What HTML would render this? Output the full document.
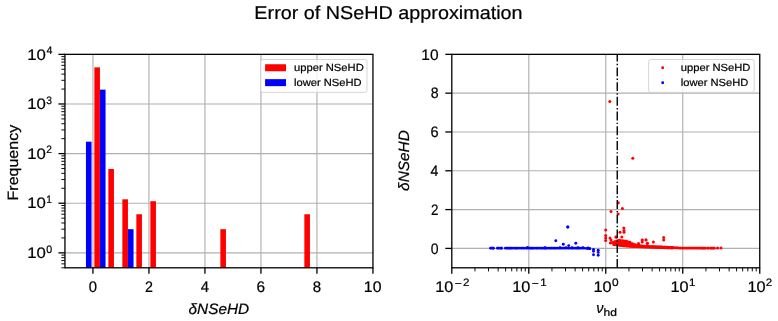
<!DOCTYPE html>
<html><head><meta charset="utf-8"><title>Error of NSeHD approximation</title>
<style>html,body{margin:0;padding:0;background:#fff;width:778px;height:321px;overflow:hidden;}
body{position:relative;font-family:"Liberation Sans", sans-serif;}</style></head>
<body>
<svg width="778" height="321" viewBox="0 0 778 321" style="position:absolute;left:0;top:0;font-family:'Liberation Sans', sans-serif">
<text x="254.38" y="18.90" font-size="18.60" textLength="268.21" lengthAdjust="spacingAndGlyphs" style="filter:grayscale(1)" text-rendering="geometricPrecision" fill="#000" stroke="#000" stroke-width="0.22">Error of NSeHD approximation</text>
<line x1="92.95" y1="54.35" x2="92.95" y2="267.8" stroke="#b0b0b0" stroke-width="1.15"/>
<line x1="148.95" y1="54.35" x2="148.95" y2="267.8" stroke="#b0b0b0" stroke-width="1.15"/>
<line x1="204.95" y1="54.35" x2="204.95" y2="267.8" stroke="#b0b0b0" stroke-width="1.15"/>
<line x1="260.95" y1="54.35" x2="260.95" y2="267.8" stroke="#b0b0b0" stroke-width="1.15"/>
<line x1="316.95" y1="54.35" x2="316.95" y2="267.8" stroke="#b0b0b0" stroke-width="1.15"/>
<line x1="64.95" y1="252.86" x2="372.95" y2="252.86" stroke="#b0b0b0" stroke-width="1.15"/>
<line x1="64.95" y1="203.23" x2="372.95" y2="203.23" stroke="#b0b0b0" stroke-width="1.15"/>
<line x1="64.95" y1="153.61" x2="372.95" y2="153.61" stroke="#b0b0b0" stroke-width="1.15"/>
<line x1="64.95" y1="103.98" x2="372.95" y2="103.98" stroke="#b0b0b0" stroke-width="1.15"/>
<rect x="85.95" y="141.67" width="5.60" height="126.13" fill="#0000ff"/>
<rect x="94.35" y="67.35" width="5.60" height="200.45" fill="#ff0000"/>
<rect x="99.95" y="89.64" width="5.60" height="178.16" fill="#0000ff"/>
<rect x="108.35" y="168.98" width="5.60" height="98.82" fill="#ff0000"/>
<rect x="122.35" y="199.30" width="5.60" height="68.50" fill="#ff0000"/>
<rect x="127.95" y="229.18" width="5.60" height="38.62" fill="#0000ff"/>
<rect x="136.35" y="214.24" width="5.60" height="53.56" fill="#ff0000"/>
<rect x="150.35" y="201.18" width="5.60" height="66.62" fill="#ff0000"/>
<rect x="220.35" y="229.18" width="5.60" height="38.62" fill="#ff0000"/>
<rect x="304.35" y="214.24" width="5.60" height="53.56" fill="#ff0000"/>
<line x1="92.95" y1="267.8" x2="92.95" y2="273.70" stroke="#000" stroke-width="1.3"/>
<text x="88.82" y="291.90" font-size="15.40" textLength="8.27" lengthAdjust="spacingAndGlyphs" style="filter:grayscale(1)" text-rendering="geometricPrecision" fill="#000" stroke="#000" stroke-width="0.22">0</text>
<line x1="148.95" y1="267.8" x2="148.95" y2="273.70" stroke="#000" stroke-width="1.3"/>
<text x="144.98" y="291.90" font-size="15.40" textLength="7.94" lengthAdjust="spacingAndGlyphs" style="filter:grayscale(1)" text-rendering="geometricPrecision" fill="#000" stroke="#000" stroke-width="0.22">2</text>
<line x1="204.95" y1="267.8" x2="204.95" y2="273.70" stroke="#000" stroke-width="1.3"/>
<text x="200.85" y="291.90" font-size="15.40" textLength="8.29" lengthAdjust="spacingAndGlyphs" style="filter:grayscale(1)" text-rendering="geometricPrecision" fill="#000" stroke="#000" stroke-width="0.22">4</text>
<line x1="260.95" y1="267.8" x2="260.95" y2="273.70" stroke="#000" stroke-width="1.3"/>
<text x="256.62" y="291.90" font-size="15.40" textLength="8.56" lengthAdjust="spacingAndGlyphs" style="filter:grayscale(1)" text-rendering="geometricPrecision" fill="#000" stroke="#000" stroke-width="0.22">6</text>
<line x1="316.95" y1="267.8" x2="316.95" y2="273.70" stroke="#000" stroke-width="1.3"/>
<text x="312.77" y="291.90" font-size="15.40" textLength="8.36" lengthAdjust="spacingAndGlyphs" style="filter:grayscale(1)" text-rendering="geometricPrecision" fill="#000" stroke="#000" stroke-width="0.22">8</text>
<line x1="372.95" y1="267.8" x2="372.95" y2="273.70" stroke="#000" stroke-width="1.3"/>
<text x="363.83" y="291.90" font-size="15.40" textLength="17.64" lengthAdjust="spacingAndGlyphs" style="filter:grayscale(1)" text-rendering="geometricPrecision" fill="#000" stroke="#000" stroke-width="0.22">10</text>
<line x1="58.45" y1="252.86" x2="64.95" y2="252.86" stroke="#000" stroke-width="1.3"/>
<text x="27.32" y="258.06" font-size="15.20" textLength="18.63" lengthAdjust="spacingAndGlyphs" style="filter:grayscale(1)" text-rendering="geometricPrecision" fill="#000" stroke="#000" stroke-width="0.22">10</text>
<text x="46.28" y="252.66" font-size="10.80" textLength="5.92" lengthAdjust="spacingAndGlyphs" style="filter:grayscale(1)" text-rendering="geometricPrecision" fill="#000" stroke="#000" stroke-width="0.22">0</text>
<line x1="58.45" y1="203.23" x2="64.95" y2="203.23" stroke="#000" stroke-width="1.3"/>
<text x="27.32" y="208.43" font-size="15.20" textLength="18.63" lengthAdjust="spacingAndGlyphs" style="filter:grayscale(1)" text-rendering="geometricPrecision" fill="#000" stroke="#000" stroke-width="0.22">10</text>
<text x="46.23" y="203.03" font-size="10.80" textLength="5.64" lengthAdjust="spacingAndGlyphs" style="filter:grayscale(1)" text-rendering="geometricPrecision" fill="#000" stroke="#000" stroke-width="0.22">1</text>
<line x1="58.45" y1="153.61" x2="64.95" y2="153.61" stroke="#000" stroke-width="1.3"/>
<text x="27.32" y="158.81" font-size="15.20" textLength="18.63" lengthAdjust="spacingAndGlyphs" style="filter:grayscale(1)" text-rendering="geometricPrecision" fill="#000" stroke="#000" stroke-width="0.22">10</text>
<text x="46.18" y="153.41" font-size="10.80" textLength="5.70" lengthAdjust="spacingAndGlyphs" style="filter:grayscale(1)" text-rendering="geometricPrecision" fill="#000" stroke="#000" stroke-width="0.22">2</text>
<line x1="58.45" y1="103.98" x2="64.95" y2="103.98" stroke="#000" stroke-width="1.3"/>
<text x="27.32" y="109.18" font-size="15.20" textLength="18.63" lengthAdjust="spacingAndGlyphs" style="filter:grayscale(1)" text-rendering="geometricPrecision" fill="#000" stroke="#000" stroke-width="0.22">10</text>
<text x="46.31" y="103.78" font-size="10.80" textLength="5.68" lengthAdjust="spacingAndGlyphs" style="filter:grayscale(1)" text-rendering="geometricPrecision" fill="#000" stroke="#000" stroke-width="0.22">3</text>
<line x1="58.45" y1="54.35" x2="64.95" y2="54.35" stroke="#000" stroke-width="1.3"/>
<text x="27.32" y="59.55" font-size="15.20" textLength="18.63" lengthAdjust="spacingAndGlyphs" style="filter:grayscale(1)" text-rendering="geometricPrecision" fill="#000" stroke="#000" stroke-width="0.22">10</text>
<text x="46.46" y="54.15" font-size="10.80" textLength="5.93" lengthAdjust="spacingAndGlyphs" style="filter:grayscale(1)" text-rendering="geometricPrecision" fill="#000" stroke="#000" stroke-width="0.22">4</text>
<line x1="61.35" y1="267.80" x2="64.95" y2="267.80" stroke="#000" stroke-width="0.95"/>
<line x1="61.35" y1="263.87" x2="64.95" y2="263.87" stroke="#000" stroke-width="0.95"/>
<line x1="61.35" y1="260.55" x2="64.95" y2="260.55" stroke="#000" stroke-width="0.95"/>
<line x1="61.35" y1="257.67" x2="64.95" y2="257.67" stroke="#000" stroke-width="0.95"/>
<line x1="61.35" y1="255.13" x2="64.95" y2="255.13" stroke="#000" stroke-width="0.95"/>
<line x1="61.35" y1="237.92" x2="64.95" y2="237.92" stroke="#000" stroke-width="0.95"/>
<line x1="61.35" y1="229.18" x2="64.95" y2="229.18" stroke="#000" stroke-width="0.95"/>
<line x1="61.35" y1="222.98" x2="64.95" y2="222.98" stroke="#000" stroke-width="0.95"/>
<line x1="61.35" y1="218.17" x2="64.95" y2="218.17" stroke="#000" stroke-width="0.95"/>
<line x1="61.35" y1="214.24" x2="64.95" y2="214.24" stroke="#000" stroke-width="0.95"/>
<line x1="61.35" y1="210.92" x2="64.95" y2="210.92" stroke="#000" stroke-width="0.95"/>
<line x1="61.35" y1="208.04" x2="64.95" y2="208.04" stroke="#000" stroke-width="0.95"/>
<line x1="61.35" y1="205.50" x2="64.95" y2="205.50" stroke="#000" stroke-width="0.95"/>
<line x1="61.35" y1="188.29" x2="64.95" y2="188.29" stroke="#000" stroke-width="0.95"/>
<line x1="61.35" y1="179.55" x2="64.95" y2="179.55" stroke="#000" stroke-width="0.95"/>
<line x1="61.35" y1="173.35" x2="64.95" y2="173.35" stroke="#000" stroke-width="0.95"/>
<line x1="61.35" y1="168.54" x2="64.95" y2="168.54" stroke="#000" stroke-width="0.95"/>
<line x1="61.35" y1="164.62" x2="64.95" y2="164.62" stroke="#000" stroke-width="0.95"/>
<line x1="61.35" y1="161.29" x2="64.95" y2="161.29" stroke="#000" stroke-width="0.95"/>
<line x1="61.35" y1="158.41" x2="64.95" y2="158.41" stroke="#000" stroke-width="0.95"/>
<line x1="61.35" y1="155.88" x2="64.95" y2="155.88" stroke="#000" stroke-width="0.95"/>
<line x1="61.35" y1="138.67" x2="64.95" y2="138.67" stroke="#000" stroke-width="0.95"/>
<line x1="61.35" y1="129.93" x2="64.95" y2="129.93" stroke="#000" stroke-width="0.95"/>
<line x1="61.35" y1="123.73" x2="64.95" y2="123.73" stroke="#000" stroke-width="0.95"/>
<line x1="61.35" y1="118.92" x2="64.95" y2="118.92" stroke="#000" stroke-width="0.95"/>
<line x1="61.35" y1="114.99" x2="64.95" y2="114.99" stroke="#000" stroke-width="0.95"/>
<line x1="61.35" y1="111.67" x2="64.95" y2="111.67" stroke="#000" stroke-width="0.95"/>
<line x1="61.35" y1="108.79" x2="64.95" y2="108.79" stroke="#000" stroke-width="0.95"/>
<line x1="61.35" y1="106.25" x2="64.95" y2="106.25" stroke="#000" stroke-width="0.95"/>
<line x1="61.35" y1="89.04" x2="64.95" y2="89.04" stroke="#000" stroke-width="0.95"/>
<line x1="61.35" y1="80.30" x2="64.95" y2="80.30" stroke="#000" stroke-width="0.95"/>
<line x1="61.35" y1="74.10" x2="64.95" y2="74.10" stroke="#000" stroke-width="0.95"/>
<line x1="61.35" y1="69.29" x2="64.95" y2="69.29" stroke="#000" stroke-width="0.95"/>
<line x1="61.35" y1="65.36" x2="64.95" y2="65.36" stroke="#000" stroke-width="0.95"/>
<line x1="61.35" y1="62.04" x2="64.95" y2="62.04" stroke="#000" stroke-width="0.95"/>
<line x1="61.35" y1="59.16" x2="64.95" y2="59.16" stroke="#000" stroke-width="0.95"/>
<line x1="61.35" y1="56.62" x2="64.95" y2="56.62" stroke="#000" stroke-width="0.95"/>
<rect x="64.95" y="54.35" width="308.00" height="213.45" fill="none" stroke="#000" stroke-width="1.3"/>
<text transform="translate(17.70 0) rotate(-90)" x="-200.41" y="0" font-size="15.00" textLength="75.54" lengthAdjust="spacingAndGlyphs" style="filter:grayscale(1)" text-rendering="geometricPrecision" fill="#000" stroke="#000" stroke-width="0.22">Frequency</text>
<text x="188.60" y="313.60" font-size="15.00" textLength="60.50" lengthAdjust="spacingAndGlyphs" style="font-style:italic;filter:grayscale(1)" text-rendering="geometricPrecision" fill="#000" stroke="#000" stroke-width="0.22">δNSeHD</text>
<rect x="260.7" y="59.5" width="106.3" height="32.9" rx="2.2" ry="2.2" fill="#fff" fill-opacity="0.8" stroke="#cccccc" stroke-opacity="0.8" stroke-width="1.0"/>
<rect x="265.10" y="64.25" width="20.9" height="7.0" fill="#ff0000"/>
<text x="294.07" y="71.20" font-size="10.40" textLength="69.65" lengthAdjust="spacingAndGlyphs" style="filter:grayscale(1)" text-rendering="geometricPrecision" fill="#000" stroke="#000" stroke-width="0.22">upper NSeHD</text>
<rect x="265.10" y="79.15" width="20.9" height="7.0" fill="#0000ff"/>
<text x="294.05" y="86.30" font-size="10.40" textLength="67.54" lengthAdjust="spacingAndGlyphs" style="filter:grayscale(1)" text-rendering="geometricPrecision" fill="#000" stroke="#000" stroke-width="0.22">lower NSeHD</text>
<line x1="528.79" y1="54.35" x2="528.79" y2="267.8" stroke="#b0b0b0" stroke-width="1.15"/>
<line x1="605.77" y1="54.35" x2="605.77" y2="267.8" stroke="#b0b0b0" stroke-width="1.15"/>
<line x1="682.76" y1="54.35" x2="682.76" y2="267.8" stroke="#b0b0b0" stroke-width="1.15"/>
<line x1="451.8" y1="248.40" x2="759.75" y2="248.40" stroke="#b0b0b0" stroke-width="1.15"/>
<line x1="451.8" y1="209.59" x2="759.75" y2="209.59" stroke="#b0b0b0" stroke-width="1.15"/>
<line x1="451.8" y1="170.78" x2="759.75" y2="170.78" stroke="#b0b0b0" stroke-width="1.15"/>
<line x1="451.8" y1="131.97" x2="759.75" y2="131.97" stroke="#b0b0b0" stroke-width="1.15"/>
<line x1="451.8" y1="93.16" x2="759.75" y2="93.16" stroke="#b0b0b0" stroke-width="1.15"/>
<circle cx="490.50" cy="248.20" r="1.35" fill="#0000ff"/>
<circle cx="491.86" cy="248.20" r="1.35" fill="#0000ff"/>
<circle cx="493.02" cy="248.20" r="1.35" fill="#0000ff"/>
<circle cx="493.40" cy="248.20" r="1.35" fill="#0000ff"/>
<circle cx="497.30" cy="248.20" r="1.35" fill="#0000ff"/>
<circle cx="498.38" cy="248.20" r="1.35" fill="#0000ff"/>
<circle cx="499.97" cy="248.20" r="1.35" fill="#0000ff"/>
<circle cx="501.37" cy="248.20" r="1.35" fill="#0000ff"/>
<circle cx="501.60" cy="248.20" r="1.35" fill="#0000ff"/>
<circle cx="505.30" cy="248.20" r="1.35" fill="#0000ff"/>
<circle cx="506.86" cy="248.20" r="1.35" fill="#0000ff"/>
<circle cx="507.90" cy="248.20" r="1.35" fill="#0000ff"/>
<circle cx="509.38" cy="248.20" r="1.35" fill="#0000ff"/>
<circle cx="510.45" cy="248.20" r="1.35" fill="#0000ff"/>
<circle cx="511.55" cy="248.20" r="1.35" fill="#0000ff"/>
<circle cx="513.02" cy="248.20" r="1.35" fill="#0000ff"/>
<circle cx="514.93" cy="248.20" r="1.35" fill="#0000ff"/>
<circle cx="516.07" cy="248.20" r="1.35" fill="#0000ff"/>
<circle cx="517.31" cy="248.20" r="1.35" fill="#0000ff"/>
<circle cx="519.00" cy="248.20" r="1.35" fill="#0000ff"/>
<circle cx="521.04" cy="248.20" r="1.35" fill="#0000ff"/>
<circle cx="522.68" cy="248.20" r="1.35" fill="#0000ff"/>
<circle cx="524.12" cy="248.20" r="1.35" fill="#0000ff"/>
<circle cx="526.19" cy="248.20" r="1.35" fill="#0000ff"/>
<circle cx="527.24" cy="248.20" r="1.35" fill="#0000ff"/>
<circle cx="529.18" cy="248.20" r="1.35" fill="#0000ff"/>
<circle cx="530.50" cy="248.20" r="1.35" fill="#0000ff"/>
<circle cx="531.66" cy="248.20" r="1.35" fill="#0000ff"/>
<circle cx="532.79" cy="248.20" r="1.35" fill="#0000ff"/>
<circle cx="534.13" cy="248.20" r="1.35" fill="#0000ff"/>
<circle cx="536.03" cy="248.20" r="1.35" fill="#0000ff"/>
<circle cx="537.23" cy="248.20" r="1.35" fill="#0000ff"/>
<circle cx="538.87" cy="248.20" r="1.35" fill="#0000ff"/>
<circle cx="540.57" cy="248.20" r="1.35" fill="#0000ff"/>
<circle cx="541.98" cy="248.20" r="1.35" fill="#0000ff"/>
<circle cx="543.58" cy="248.20" r="1.35" fill="#0000ff"/>
<circle cx="544.65" cy="248.20" r="1.35" fill="#0000ff"/>
<circle cx="545.72" cy="248.20" r="1.35" fill="#0000ff"/>
<circle cx="546.94" cy="248.20" r="1.35" fill="#0000ff"/>
<circle cx="548.69" cy="248.20" r="1.35" fill="#0000ff"/>
<circle cx="550.16" cy="248.20" r="1.35" fill="#0000ff"/>
<circle cx="551.51" cy="248.20" r="1.35" fill="#0000ff"/>
<circle cx="553.15" cy="248.20" r="1.35" fill="#0000ff"/>
<circle cx="554.65" cy="248.20" r="1.35" fill="#0000ff"/>
<circle cx="555.98" cy="248.20" r="1.35" fill="#0000ff"/>
<circle cx="557.85" cy="248.20" r="1.35" fill="#0000ff"/>
<circle cx="559.62" cy="248.20" r="1.35" fill="#0000ff"/>
<circle cx="560.89" cy="248.20" r="1.35" fill="#0000ff"/>
<circle cx="562.52" cy="248.20" r="1.35" fill="#0000ff"/>
<circle cx="564.10" cy="248.20" r="1.35" fill="#0000ff"/>
<circle cx="566.06" cy="248.20" r="1.35" fill="#0000ff"/>
<circle cx="567.87" cy="248.20" r="1.35" fill="#0000ff"/>
<circle cx="569.18" cy="248.20" r="1.35" fill="#0000ff"/>
<circle cx="571.26" cy="248.20" r="1.35" fill="#0000ff"/>
<circle cx="572.39" cy="248.20" r="1.35" fill="#0000ff"/>
<circle cx="573.85" cy="248.20" r="1.35" fill="#0000ff"/>
<circle cx="575.68" cy="248.20" r="1.35" fill="#0000ff"/>
<circle cx="576.85" cy="248.20" r="1.35" fill="#0000ff"/>
<circle cx="578.39" cy="248.20" r="1.35" fill="#0000ff"/>
<circle cx="579.43" cy="248.20" r="1.35" fill="#0000ff"/>
<circle cx="581.17" cy="248.20" r="1.35" fill="#0000ff"/>
<circle cx="583.01" cy="248.20" r="1.35" fill="#0000ff"/>
<circle cx="584.64" cy="248.25" r="1.35" fill="#0000ff"/>
<circle cx="586.60" cy="248.42" r="1.35" fill="#0000ff"/>
<circle cx="587.95" cy="248.53" r="1.35" fill="#0000ff"/>
<circle cx="589.71" cy="248.68" r="1.35" fill="#0000ff"/>
<circle cx="590.00" cy="248.70" r="1.35" fill="#0000ff"/>
<circle cx="527.60" cy="247.40" r="1.35" fill="#0000ff"/>
<circle cx="545.00" cy="247.70" r="1.35" fill="#0000ff"/>
<circle cx="560.00" cy="247.60" r="1.35" fill="#0000ff"/>
<circle cx="566.00" cy="247.50" r="1.35" fill="#0000ff"/>
<circle cx="572.00" cy="247.60" r="1.35" fill="#0000ff"/>
<circle cx="578.00" cy="247.50" r="1.35" fill="#0000ff"/>
<circle cx="583.00" cy="247.70" r="1.35" fill="#0000ff"/>
<circle cx="588.00" cy="247.90" r="1.35" fill="#0000ff"/>
<circle cx="555.80" cy="240.80" r="1.45" fill="#0000ff"/>
<circle cx="567.80" cy="227.00" r="1.45" fill="#0000ff"/>
<circle cx="563.30" cy="244.20" r="1.45" fill="#0000ff"/>
<circle cx="575.80" cy="243.30" r="1.45" fill="#0000ff"/>
<circle cx="568.70" cy="245.60" r="1.45" fill="#0000ff"/>
<circle cx="593.50" cy="249.40" r="1.45" fill="#0000ff"/>
<circle cx="593.50" cy="251.30" r="1.45" fill="#0000ff"/>
<circle cx="593.50" cy="254.80" r="1.45" fill="#0000ff"/>
<circle cx="598.20" cy="250.20" r="1.45" fill="#0000ff"/>
<circle cx="598.20" cy="252.40" r="1.45" fill="#0000ff"/>
<circle cx="598.20" cy="255.30" r="1.45" fill="#0000ff"/>
<circle cx="567.80" cy="227.00" r="1.5" fill="#0000ff"/>
<circle cx="609.80" cy="101.40" r="1.5" fill="#ff0000"/>
<circle cx="632.80" cy="158.30" r="1.5" fill="#ff0000"/>
<circle cx="618.30" cy="202.70" r="1.5" fill="#ff0000"/>
<circle cx="622.40" cy="208.40" r="1.5" fill="#ff0000"/>
<circle cx="611.00" cy="211.50" r="1.5" fill="#ff0000"/>
<circle cx="618.10" cy="213.90" r="1.5" fill="#ff0000"/>
<circle cx="605.70" cy="230.00" r="1.5" fill="#ff0000"/>
<circle cx="605.70" cy="235.50" r="1.5" fill="#ff0000"/>
<circle cx="605.70" cy="238.00" r="1.5" fill="#ff0000"/>
<circle cx="605.70" cy="240.50" r="1.5" fill="#ff0000"/>
<circle cx="610.00" cy="238.00" r="1.5" fill="#ff0000"/>
<circle cx="611.00" cy="240.00" r="1.5" fill="#ff0000"/>
<circle cx="611.50" cy="242.50" r="1.5" fill="#ff0000"/>
<circle cx="610.30" cy="243.00" r="1.5" fill="#ff0000"/>
<circle cx="620.00" cy="232.20" r="1.5" fill="#ff0000"/>
<circle cx="623.80" cy="227.90" r="1.5" fill="#ff0000"/>
<circle cx="624.00" cy="230.50" r="1.5" fill="#ff0000"/>
<circle cx="624.00" cy="232.30" r="1.5" fill="#ff0000"/>
<circle cx="615.90" cy="237.10" r="1.5" fill="#ff0000"/>
<circle cx="621.80" cy="237.10" r="1.5" fill="#ff0000"/>
<circle cx="642.20" cy="240.10" r="1.5" fill="#ff0000"/>
<circle cx="642.20" cy="242.00" r="1.5" fill="#ff0000"/>
<circle cx="646.00" cy="240.10" r="1.5" fill="#ff0000"/>
<circle cx="647.20" cy="243.50" r="1.5" fill="#ff0000"/>
<circle cx="653.40" cy="242.00" r="1.5" fill="#ff0000"/>
<circle cx="663.70" cy="237.60" r="1.5" fill="#ff0000"/>
<circle cx="663.70" cy="240.10" r="1.5" fill="#ff0000"/>
<circle cx="638.50" cy="243.80" r="1.5" fill="#ff0000"/>
<circle cx="717.60" cy="248.10" r="1.5" fill="#ff0000"/>
<circle cx="721.00" cy="248.10" r="1.5" fill="#ff0000"/>
<circle cx="613.54" cy="242.15" r="1.35" fill="#ff0000"/>
<circle cx="613.48" cy="243.40" r="1.35" fill="#ff0000"/>
<circle cx="613.67" cy="244.65" r="1.35" fill="#ff0000"/>
<circle cx="614.72" cy="241.82" r="1.35" fill="#ff0000"/>
<circle cx="614.49" cy="243.29" r="1.35" fill="#ff0000"/>
<circle cx="614.58" cy="244.77" r="1.35" fill="#ff0000"/>
<circle cx="615.28" cy="241.48" r="1.35" fill="#ff0000"/>
<circle cx="615.60" cy="242.62" r="1.35" fill="#ff0000"/>
<circle cx="615.57" cy="243.75" r="1.35" fill="#ff0000"/>
<circle cx="615.75" cy="244.89" r="1.35" fill="#ff0000"/>
<circle cx="616.66" cy="241.15" r="1.35" fill="#ff0000"/>
<circle cx="616.39" cy="242.43" r="1.35" fill="#ff0000"/>
<circle cx="616.44" cy="243.72" r="1.35" fill="#ff0000"/>
<circle cx="616.58" cy="245.00" r="1.35" fill="#ff0000"/>
<circle cx="617.26" cy="240.82" r="1.35" fill="#ff0000"/>
<circle cx="617.48" cy="242.25" r="1.35" fill="#ff0000"/>
<circle cx="617.33" cy="243.69" r="1.35" fill="#ff0000"/>
<circle cx="617.31" cy="245.12" r="1.35" fill="#ff0000"/>
<circle cx="618.28" cy="240.68" r="1.35" fill="#ff0000"/>
<circle cx="618.63" cy="241.82" r="1.35" fill="#ff0000"/>
<circle cx="618.31" cy="242.96" r="1.35" fill="#ff0000"/>
<circle cx="618.37" cy="244.10" r="1.35" fill="#ff0000"/>
<circle cx="618.45" cy="245.24" r="1.35" fill="#ff0000"/>
<circle cx="619.69" cy="240.73" r="1.35" fill="#ff0000"/>
<circle cx="619.29" cy="241.89" r="1.35" fill="#ff0000"/>
<circle cx="619.47" cy="243.04" r="1.35" fill="#ff0000"/>
<circle cx="619.52" cy="244.20" r="1.35" fill="#ff0000"/>
<circle cx="619.69" cy="245.36" r="1.35" fill="#ff0000"/>
<circle cx="620.66" cy="240.79" r="1.35" fill="#ff0000"/>
<circle cx="620.68" cy="241.96" r="1.35" fill="#ff0000"/>
<circle cx="620.39" cy="243.13" r="1.35" fill="#ff0000"/>
<circle cx="620.46" cy="244.30" r="1.35" fill="#ff0000"/>
<circle cx="620.43" cy="245.47" r="1.35" fill="#ff0000"/>
<circle cx="621.69" cy="240.84" r="1.35" fill="#ff0000"/>
<circle cx="621.73" cy="242.03" r="1.35" fill="#ff0000"/>
<circle cx="621.33" cy="243.22" r="1.35" fill="#ff0000"/>
<circle cx="621.34" cy="244.40" r="1.35" fill="#ff0000"/>
<circle cx="621.37" cy="245.59" r="1.35" fill="#ff0000"/>
<circle cx="622.37" cy="240.90" r="1.35" fill="#ff0000"/>
<circle cx="622.49" cy="242.10" r="1.35" fill="#ff0000"/>
<circle cx="622.54" cy="243.30" r="1.35" fill="#ff0000"/>
<circle cx="622.38" cy="244.50" r="1.35" fill="#ff0000"/>
<circle cx="622.25" cy="245.69" r="1.35" fill="#ff0000"/>
<circle cx="623.46" cy="240.96" r="1.35" fill="#ff0000"/>
<circle cx="623.43" cy="242.16" r="1.35" fill="#ff0000"/>
<circle cx="623.53" cy="243.37" r="1.35" fill="#ff0000"/>
<circle cx="623.73" cy="244.58" r="1.35" fill="#ff0000"/>
<circle cx="623.60" cy="245.78" r="1.35" fill="#ff0000"/>
<circle cx="624.51" cy="241.01" r="1.35" fill="#ff0000"/>
<circle cx="624.56" cy="242.23" r="1.35" fill="#ff0000"/>
<circle cx="624.59" cy="243.44" r="1.35" fill="#ff0000"/>
<circle cx="624.28" cy="244.66" r="1.35" fill="#ff0000"/>
<circle cx="624.70" cy="245.88" r="1.35" fill="#ff0000"/>
<circle cx="625.64" cy="241.07" r="1.35" fill="#ff0000"/>
<circle cx="625.69" cy="242.29" r="1.35" fill="#ff0000"/>
<circle cx="625.65" cy="243.52" r="1.35" fill="#ff0000"/>
<circle cx="625.45" cy="244.74" r="1.35" fill="#ff0000"/>
<circle cx="625.45" cy="245.97" r="1.35" fill="#ff0000"/>
<circle cx="626.30" cy="241.12" r="1.35" fill="#ff0000"/>
<circle cx="626.57" cy="242.36" r="1.35" fill="#ff0000"/>
<circle cx="626.28" cy="243.59" r="1.35" fill="#ff0000"/>
<circle cx="626.28" cy="244.82" r="1.35" fill="#ff0000"/>
<circle cx="626.35" cy="246.06" r="1.35" fill="#ff0000"/>
<circle cx="627.33" cy="241.48" r="1.35" fill="#ff0000"/>
<circle cx="627.42" cy="242.65" r="1.35" fill="#ff0000"/>
<circle cx="627.28" cy="243.81" r="1.35" fill="#ff0000"/>
<circle cx="627.25" cy="244.98" r="1.35" fill="#ff0000"/>
<circle cx="627.33" cy="246.15" r="1.35" fill="#ff0000"/>
<circle cx="628.30" cy="242.15" r="1.35" fill="#ff0000"/>
<circle cx="628.43" cy="243.51" r="1.35" fill="#ff0000"/>
<circle cx="628.26" cy="244.87" r="1.35" fill="#ff0000"/>
<circle cx="628.69" cy="246.24" r="1.35" fill="#ff0000"/>
<circle cx="629.56" cy="242.82" r="1.35" fill="#ff0000"/>
<circle cx="629.32" cy="243.99" r="1.35" fill="#ff0000"/>
<circle cx="629.38" cy="245.16" r="1.35" fill="#ff0000"/>
<circle cx="629.42" cy="246.33" r="1.35" fill="#ff0000"/>
<circle cx="630.43" cy="243.30" r="1.35" fill="#ff0000"/>
<circle cx="630.31" cy="244.86" r="1.35" fill="#ff0000"/>
<circle cx="630.67" cy="246.42" r="1.35" fill="#ff0000"/>
<circle cx="631.75" cy="243.60" r="1.35" fill="#ff0000"/>
<circle cx="631.48" cy="245.05" r="1.35" fill="#ff0000"/>
<circle cx="631.49" cy="246.51" r="1.35" fill="#ff0000"/>
<circle cx="632.29" cy="243.90" r="1.35" fill="#ff0000"/>
<circle cx="632.30" cy="245.23" r="1.35" fill="#ff0000"/>
<circle cx="632.42" cy="246.57" r="1.35" fill="#ff0000"/>
<circle cx="633.38" cy="244.20" r="1.35" fill="#ff0000"/>
<circle cx="633.66" cy="245.40" r="1.35" fill="#ff0000"/>
<circle cx="633.33" cy="246.61" r="1.35" fill="#ff0000"/>
<circle cx="634.26" cy="244.50" r="1.35" fill="#ff0000"/>
<circle cx="634.73" cy="245.57" r="1.35" fill="#ff0000"/>
<circle cx="634.51" cy="246.65" r="1.35" fill="#ff0000"/>
<circle cx="635.32" cy="244.80" r="1.35" fill="#ff0000"/>
<circle cx="635.52" cy="246.68" r="1.35" fill="#ff0000"/>
<circle cx="636.26" cy="245.05" r="1.35" fill="#ff0000"/>
<circle cx="636.51" cy="246.72" r="1.35" fill="#ff0000"/>
<circle cx="637.74" cy="245.25" r="1.35" fill="#ff0000"/>
<circle cx="637.68" cy="246.76" r="1.35" fill="#ff0000"/>
<circle cx="638.60" cy="245.45" r="1.35" fill="#ff0000"/>
<circle cx="638.38" cy="246.80" r="1.35" fill="#ff0000"/>
<circle cx="639.43" cy="245.65" r="1.35" fill="#ff0000"/>
<circle cx="639.33" cy="246.84" r="1.35" fill="#ff0000"/>
<circle cx="640.50" cy="245.80" r="1.35" fill="#ff0000"/>
<circle cx="640.50" cy="246.88" r="1.35" fill="#ff0000"/>
<circle cx="641.50" cy="245.90" r="1.35" fill="#ff0000"/>
<circle cx="641.50" cy="246.92" r="1.35" fill="#ff0000"/>
<circle cx="642.50" cy="246.00" r="1.35" fill="#ff0000"/>
<circle cx="642.50" cy="246.95" r="1.35" fill="#ff0000"/>
<circle cx="643.50" cy="246.10" r="1.35" fill="#ff0000"/>
<circle cx="643.50" cy="246.99" r="1.35" fill="#ff0000"/>
<circle cx="644.50" cy="246.20" r="1.35" fill="#ff0000"/>
<circle cx="644.50" cy="247.03" r="1.35" fill="#ff0000"/>
<circle cx="645.50" cy="246.30" r="1.35" fill="#ff0000"/>
<circle cx="645.50" cy="247.07" r="1.35" fill="#ff0000"/>
<circle cx="646.50" cy="246.37" r="1.35" fill="#ff0000"/>
<circle cx="646.50" cy="247.11" r="1.35" fill="#ff0000"/>
<circle cx="647.50" cy="246.41" r="1.35" fill="#ff0000"/>
<circle cx="647.50" cy="247.15" r="1.35" fill="#ff0000"/>
<circle cx="648.50" cy="246.45" r="1.35" fill="#ff0000"/>
<circle cx="648.50" cy="247.18" r="1.35" fill="#ff0000"/>
<circle cx="649.50" cy="246.49" r="1.35" fill="#ff0000"/>
<circle cx="649.50" cy="247.22" r="1.35" fill="#ff0000"/>
<circle cx="650.50" cy="246.53" r="1.35" fill="#ff0000"/>
<circle cx="650.50" cy="247.26" r="1.35" fill="#ff0000"/>
<circle cx="651.50" cy="246.57" r="1.35" fill="#ff0000"/>
<circle cx="651.50" cy="247.30" r="1.35" fill="#ff0000"/>
<circle cx="652.50" cy="246.61" r="1.35" fill="#ff0000"/>
<circle cx="652.50" cy="247.34" r="1.35" fill="#ff0000"/>
<circle cx="653.50" cy="246.65" r="1.35" fill="#ff0000"/>
<circle cx="653.50" cy="247.37" r="1.35" fill="#ff0000"/>
<circle cx="654.50" cy="246.69" r="1.35" fill="#ff0000"/>
<circle cx="654.50" cy="247.41" r="1.35" fill="#ff0000"/>
<circle cx="655.50" cy="246.73" r="1.35" fill="#ff0000"/>
<circle cx="655.50" cy="247.45" r="1.35" fill="#ff0000"/>
<circle cx="656.50" cy="246.77" r="1.35" fill="#ff0000"/>
<circle cx="656.50" cy="247.49" r="1.35" fill="#ff0000"/>
<circle cx="657.50" cy="246.81" r="1.35" fill="#ff0000"/>
<circle cx="657.50" cy="247.53" r="1.35" fill="#ff0000"/>
<circle cx="658.50" cy="246.85" r="1.35" fill="#ff0000"/>
<circle cx="658.50" cy="247.56" r="1.35" fill="#ff0000"/>
<circle cx="659.50" cy="246.89" r="1.35" fill="#ff0000"/>
<circle cx="659.50" cy="247.60" r="1.35" fill="#ff0000"/>
<circle cx="660.50" cy="246.93" r="1.35" fill="#ff0000"/>
<circle cx="660.50" cy="247.64" r="1.35" fill="#ff0000"/>
<circle cx="661.50" cy="246.97" r="1.35" fill="#ff0000"/>
<circle cx="661.50" cy="247.68" r="1.35" fill="#ff0000"/>
<circle cx="662.50" cy="247.01" r="1.35" fill="#ff0000"/>
<circle cx="662.50" cy="247.72" r="1.35" fill="#ff0000"/>
<circle cx="663.50" cy="247.05" r="1.35" fill="#ff0000"/>
<circle cx="663.50" cy="247.75" r="1.35" fill="#ff0000"/>
<circle cx="664.50" cy="247.09" r="1.35" fill="#ff0000"/>
<circle cx="664.50" cy="247.79" r="1.35" fill="#ff0000"/>
<circle cx="665.50" cy="247.13" r="1.35" fill="#ff0000"/>
<circle cx="665.50" cy="247.83" r="1.35" fill="#ff0000"/>
<circle cx="666.50" cy="247.17" r="1.35" fill="#ff0000"/>
<circle cx="666.50" cy="247.87" r="1.35" fill="#ff0000"/>
<circle cx="667.50" cy="247.21" r="1.35" fill="#ff0000"/>
<circle cx="667.50" cy="247.90" r="1.35" fill="#ff0000"/>
<circle cx="668.50" cy="247.26" r="1.35" fill="#ff0000"/>
<circle cx="668.50" cy="247.94" r="1.35" fill="#ff0000"/>
<circle cx="669.50" cy="247.30" r="1.35" fill="#ff0000"/>
<circle cx="669.50" cy="247.97" r="1.35" fill="#ff0000"/>
<circle cx="670.50" cy="247.34" r="1.35" fill="#ff0000"/>
<circle cx="670.50" cy="248.01" r="1.35" fill="#ff0000"/>
<circle cx="671.50" cy="247.39" r="1.35" fill="#ff0000"/>
<circle cx="671.50" cy="248.05" r="1.35" fill="#ff0000"/>
<circle cx="672.50" cy="247.43" r="1.35" fill="#ff0000"/>
<circle cx="672.50" cy="248.08" r="1.35" fill="#ff0000"/>
<circle cx="673.50" cy="247.79" r="1.35" fill="#ff0000"/>
<circle cx="674.50" cy="247.83" r="1.35" fill="#ff0000"/>
<circle cx="675.50" cy="247.87" r="1.35" fill="#ff0000"/>
<circle cx="676.50" cy="247.91" r="1.35" fill="#ff0000"/>
<circle cx="677.50" cy="247.95" r="1.35" fill="#ff0000"/>
<circle cx="678.50" cy="247.99" r="1.35" fill="#ff0000"/>
<circle cx="679.50" cy="248.03" r="1.35" fill="#ff0000"/>
<circle cx="680.50" cy="248.05" r="1.35" fill="#ff0000"/>
<circle cx="681.50" cy="248.06" r="1.35" fill="#ff0000"/>
<circle cx="682.50" cy="248.06" r="1.35" fill="#ff0000"/>
<circle cx="683.50" cy="248.06" r="1.35" fill="#ff0000"/>
<circle cx="684.50" cy="248.07" r="1.35" fill="#ff0000"/>
<circle cx="685.50" cy="248.07" r="1.35" fill="#ff0000"/>
<circle cx="686.50" cy="248.07" r="1.35" fill="#ff0000"/>
<circle cx="687.50" cy="248.08" r="1.35" fill="#ff0000"/>
<circle cx="688.50" cy="248.08" r="1.35" fill="#ff0000"/>
<circle cx="689.50" cy="248.08" r="1.35" fill="#ff0000"/>
<circle cx="690.50" cy="248.09" r="1.35" fill="#ff0000"/>
<circle cx="691.50" cy="248.09" r="1.35" fill="#ff0000"/>
<circle cx="692.50" cy="248.09" r="1.35" fill="#ff0000"/>
<circle cx="693.50" cy="248.10" r="1.35" fill="#ff0000"/>
<circle cx="694.50" cy="248.10" r="1.35" fill="#ff0000"/>
<circle cx="695.50" cy="248.11" r="1.35" fill="#ff0000"/>
<circle cx="696.50" cy="248.11" r="1.35" fill="#ff0000"/>
<circle cx="697.50" cy="248.11" r="1.35" fill="#ff0000"/>
<circle cx="698.50" cy="248.12" r="1.35" fill="#ff0000"/>
<circle cx="699.50" cy="248.12" r="1.35" fill="#ff0000"/>
<circle cx="700.50" cy="248.12" r="1.35" fill="#ff0000"/>
<circle cx="701.50" cy="248.13" r="1.35" fill="#ff0000"/>
<circle cx="702.50" cy="248.13" r="1.35" fill="#ff0000"/>
<circle cx="703.50" cy="248.13" r="1.35" fill="#ff0000"/>
<circle cx="704.50" cy="248.14" r="1.35" fill="#ff0000"/>
<circle cx="705.50" cy="248.14" r="1.35" fill="#ff0000"/>
<circle cx="707.50" cy="248.15" r="1.35" fill="#ff0000"/>
<circle cx="708.50" cy="248.15" r="1.35" fill="#ff0000"/>
<circle cx="710.50" cy="248.16" r="1.35" fill="#ff0000"/>
<circle cx="711.50" cy="248.16" r="1.35" fill="#ff0000"/>
<circle cx="712.50" cy="248.17" r="1.35" fill="#ff0000"/>
<circle cx="713.50" cy="248.17" r="1.35" fill="#ff0000"/>
<circle cx="714.50" cy="248.17" r="1.35" fill="#ff0000"/>
<circle cx="616.20" cy="237.20" r="1.35" fill="#ff0000"/>
<circle cx="638.50" cy="243.70" r="1.35" fill="#ff0000"/>
<circle cx="619.50" cy="240.00" r="1.35" fill="#ff0000"/>
<circle cx="630.00" cy="242.20" r="1.35" fill="#ff0000"/>
<circle cx="647.50" cy="243.20" r="1.35" fill="#ff0000"/>
<circle cx="646.00" cy="239.90" r="1.35" fill="#ff0000"/>
<circle cx="642.30" cy="240.10" r="1.35" fill="#ff0000"/>
<line x1="617.25" y1="267.8" x2="617.25" y2="54.35" stroke="#000" stroke-width="1.4" stroke-dasharray="8.9 2.22 1.39 2.22"/>
<line x1="451.80" y1="267.8" x2="451.80" y2="273.70" stroke="#000" stroke-width="1.3"/>
<line x1="528.79" y1="267.8" x2="528.79" y2="273.70" stroke="#000" stroke-width="1.3"/>
<line x1="605.77" y1="267.8" x2="605.77" y2="273.70" stroke="#000" stroke-width="1.3"/>
<line x1="682.76" y1="267.8" x2="682.76" y2="273.70" stroke="#000" stroke-width="1.3"/>
<line x1="759.75" y1="267.8" x2="759.75" y2="273.70" stroke="#000" stroke-width="1.3"/>
<line x1="474.98" y1="267.8" x2="474.98" y2="271.40" stroke="#000" stroke-width="0.95"/>
<line x1="488.53" y1="267.8" x2="488.53" y2="271.40" stroke="#000" stroke-width="0.95"/>
<line x1="498.15" y1="267.8" x2="498.15" y2="271.40" stroke="#000" stroke-width="0.95"/>
<line x1="505.61" y1="267.8" x2="505.61" y2="271.40" stroke="#000" stroke-width="0.95"/>
<line x1="511.71" y1="267.8" x2="511.71" y2="271.40" stroke="#000" stroke-width="0.95"/>
<line x1="516.86" y1="267.8" x2="516.86" y2="271.40" stroke="#000" stroke-width="0.95"/>
<line x1="521.33" y1="267.8" x2="521.33" y2="271.40" stroke="#000" stroke-width="0.95"/>
<line x1="525.26" y1="267.8" x2="525.26" y2="271.40" stroke="#000" stroke-width="0.95"/>
<line x1="551.96" y1="267.8" x2="551.96" y2="271.40" stroke="#000" stroke-width="0.95"/>
<line x1="565.52" y1="267.8" x2="565.52" y2="271.40" stroke="#000" stroke-width="0.95"/>
<line x1="575.14" y1="267.8" x2="575.14" y2="271.40" stroke="#000" stroke-width="0.95"/>
<line x1="582.60" y1="267.8" x2="582.60" y2="271.40" stroke="#000" stroke-width="0.95"/>
<line x1="588.70" y1="267.8" x2="588.70" y2="271.40" stroke="#000" stroke-width="0.95"/>
<line x1="593.85" y1="267.8" x2="593.85" y2="271.40" stroke="#000" stroke-width="0.95"/>
<line x1="598.31" y1="267.8" x2="598.31" y2="271.40" stroke="#000" stroke-width="0.95"/>
<line x1="602.25" y1="267.8" x2="602.25" y2="271.40" stroke="#000" stroke-width="0.95"/>
<line x1="628.95" y1="267.8" x2="628.95" y2="271.40" stroke="#000" stroke-width="0.95"/>
<line x1="642.51" y1="267.8" x2="642.51" y2="271.40" stroke="#000" stroke-width="0.95"/>
<line x1="652.13" y1="267.8" x2="652.13" y2="271.40" stroke="#000" stroke-width="0.95"/>
<line x1="659.59" y1="267.8" x2="659.59" y2="271.40" stroke="#000" stroke-width="0.95"/>
<line x1="665.68" y1="267.8" x2="665.68" y2="271.40" stroke="#000" stroke-width="0.95"/>
<line x1="670.84" y1="267.8" x2="670.84" y2="271.40" stroke="#000" stroke-width="0.95"/>
<line x1="675.30" y1="267.8" x2="675.30" y2="271.40" stroke="#000" stroke-width="0.95"/>
<line x1="679.24" y1="267.8" x2="679.24" y2="271.40" stroke="#000" stroke-width="0.95"/>
<line x1="705.94" y1="267.8" x2="705.94" y2="271.40" stroke="#000" stroke-width="0.95"/>
<line x1="719.49" y1="267.8" x2="719.49" y2="271.40" stroke="#000" stroke-width="0.95"/>
<line x1="729.11" y1="267.8" x2="729.11" y2="271.40" stroke="#000" stroke-width="0.95"/>
<line x1="736.57" y1="267.8" x2="736.57" y2="271.40" stroke="#000" stroke-width="0.95"/>
<line x1="742.67" y1="267.8" x2="742.67" y2="271.40" stroke="#000" stroke-width="0.95"/>
<line x1="747.82" y1="267.8" x2="747.82" y2="271.40" stroke="#000" stroke-width="0.95"/>
<line x1="752.29" y1="267.8" x2="752.29" y2="271.40" stroke="#000" stroke-width="0.95"/>
<line x1="756.23" y1="267.8" x2="756.23" y2="271.40" stroke="#000" stroke-width="0.95"/>
<line x1="445.30" y1="248.40" x2="451.8" y2="248.40" stroke="#000" stroke-width="1.3"/>
<text x="430.64" y="253.70" font-size="15.20" textLength="7.80" lengthAdjust="spacingAndGlyphs" style="filter:grayscale(1)" text-rendering="geometricPrecision" fill="#000" stroke="#000" stroke-width="0.22">0</text>
<line x1="445.30" y1="209.59" x2="451.8" y2="209.59" stroke="#000" stroke-width="1.3"/>
<text x="431.12" y="214.89" font-size="15.20" textLength="7.45" lengthAdjust="spacingAndGlyphs" style="filter:grayscale(1)" text-rendering="geometricPrecision" fill="#000" stroke="#000" stroke-width="0.22">2</text>
<line x1="445.30" y1="170.78" x2="451.8" y2="170.78" stroke="#000" stroke-width="1.3"/>
<text x="430.47" y="176.08" font-size="15.20" textLength="7.85" lengthAdjust="spacingAndGlyphs" style="filter:grayscale(1)" text-rendering="geometricPrecision" fill="#000" stroke="#000" stroke-width="0.22">4</text>
<line x1="445.30" y1="131.97" x2="451.8" y2="131.97" stroke="#000" stroke-width="1.3"/>
<text x="430.46" y="137.27" font-size="15.20" textLength="8.08" lengthAdjust="spacingAndGlyphs" style="filter:grayscale(1)" text-rendering="geometricPrecision" fill="#000" stroke="#000" stroke-width="0.22">6</text>
<line x1="445.30" y1="93.16" x2="451.8" y2="93.16" stroke="#000" stroke-width="1.3"/>
<text x="430.63" y="98.46" font-size="15.20" textLength="7.88" lengthAdjust="spacingAndGlyphs" style="filter:grayscale(1)" text-rendering="geometricPrecision" fill="#000" stroke="#000" stroke-width="0.22">8</text>
<line x1="445.30" y1="54.35" x2="451.8" y2="54.35" stroke="#000" stroke-width="1.3"/>
<text x="421.31" y="59.65" font-size="15.20" textLength="17.20" lengthAdjust="spacingAndGlyphs" style="filter:grayscale(1)" text-rendering="geometricPrecision" fill="#000" stroke="#000" stroke-width="0.22">10</text>
<text x="435.25" y="292.00" font-size="15.40" textLength="18.18" lengthAdjust="spacingAndGlyphs" style="filter:grayscale(1)" text-rendering="geometricPrecision" fill="#000" stroke="#000" stroke-width="0.22">10</text>
<text x="454.71" y="286.50" font-size="10.80" textLength="6.97" lengthAdjust="spacingAndGlyphs" style="filter:grayscale(1)" text-rendering="geometricPrecision" fill="#000" stroke="#000" stroke-width="0.22">−</text>
<text x="463.12" y="285.90" font-size="10.80" textLength="6.43" lengthAdjust="spacingAndGlyphs" style="filter:grayscale(1)" text-rendering="geometricPrecision" fill="#000" stroke="#000" stroke-width="0.22">2</text>
<text x="512.24" y="292.00" font-size="15.40" textLength="18.18" lengthAdjust="spacingAndGlyphs" style="filter:grayscale(1)" text-rendering="geometricPrecision" fill="#000" stroke="#000" stroke-width="0.22">10</text>
<text x="531.70" y="286.50" font-size="10.80" textLength="6.97" lengthAdjust="spacingAndGlyphs" style="filter:grayscale(1)" text-rendering="geometricPrecision" fill="#000" stroke="#000" stroke-width="0.22">−</text>
<text x="540.31" y="285.90" font-size="10.80" textLength="6.41" lengthAdjust="spacingAndGlyphs" style="filter:grayscale(1)" text-rendering="geometricPrecision" fill="#000" stroke="#000" stroke-width="0.22">1</text>
<text x="593.53" y="292.00" font-size="15.40" textLength="18.18" lengthAdjust="spacingAndGlyphs" style="filter:grayscale(1)" text-rendering="geometricPrecision" fill="#000" stroke="#000" stroke-width="0.22">10</text>
<text x="612.01" y="285.90" font-size="10.80" textLength="6.62" lengthAdjust="spacingAndGlyphs" style="filter:grayscale(1)" text-rendering="geometricPrecision" fill="#000" stroke="#000" stroke-width="0.22">0</text>
<text x="670.52" y="292.00" font-size="15.40" textLength="18.18" lengthAdjust="spacingAndGlyphs" style="filter:grayscale(1)" text-rendering="geometricPrecision" fill="#000" stroke="#000" stroke-width="0.22">10</text>
<text x="689.08" y="285.90" font-size="10.80" textLength="6.41" lengthAdjust="spacingAndGlyphs" style="filter:grayscale(1)" text-rendering="geometricPrecision" fill="#000" stroke="#000" stroke-width="0.22">1</text>
<text x="747.50" y="292.00" font-size="15.40" textLength="18.18" lengthAdjust="spacingAndGlyphs" style="filter:grayscale(1)" text-rendering="geometricPrecision" fill="#000" stroke="#000" stroke-width="0.22">10</text>
<text x="765.87" y="285.90" font-size="10.80" textLength="6.43" lengthAdjust="spacingAndGlyphs" style="filter:grayscale(1)" text-rendering="geometricPrecision" fill="#000" stroke="#000" stroke-width="0.22">2</text>
<rect x="451.8" y="54.35" width="307.95" height="213.45" fill="none" stroke="#000" stroke-width="1.3"/>
<text transform="translate(408.60 0) rotate(-90)" x="-190.90" y="0" font-size="15.00" textLength="60.70" lengthAdjust="spacingAndGlyphs" style="font-style:italic;filter:grayscale(1)" text-rendering="geometricPrecision" fill="#000" stroke="#000" stroke-width="0.22">δNSeHD</text>
<text x="596.31" y="313.40" font-size="15.00" textLength="7.19" lengthAdjust="spacingAndGlyphs" style="font-style:italic;filter:grayscale(1)" text-rendering="geometricPrecision" fill="#000" stroke="#000" stroke-width="0.22">ν</text>
<text x="603.46" y="316.00" font-size="10.80" textLength="13.41" lengthAdjust="spacingAndGlyphs" style="filter:grayscale(1)" text-rendering="geometricPrecision" fill="#000" stroke="#000" stroke-width="0.22">hd</text>
<rect x="648.6" y="59.5" width="105.6" height="32.9" rx="2.2" ry="2.2" fill="#fff" fill-opacity="0.8" stroke="#cccccc" stroke-opacity="0.8" stroke-width="1.0"/>
<circle cx="662.70" cy="67.80" r="1.45" fill="#ff0000"/>
<text x="680.77" y="71.20" font-size="10.40" textLength="69.65" lengthAdjust="spacingAndGlyphs" style="filter:grayscale(1)" text-rendering="geometricPrecision" fill="#000" stroke="#000" stroke-width="0.22">upper NSeHD</text>
<circle cx="662.70" cy="82.80" r="1.45" fill="#0000ff"/>
<text x="680.75" y="86.30" font-size="10.40" textLength="67.54" lengthAdjust="spacingAndGlyphs" style="filter:grayscale(1)" text-rendering="geometricPrecision" fill="#000" stroke="#000" stroke-width="0.22">lower NSeHD</text>
</svg>
</body></html>
